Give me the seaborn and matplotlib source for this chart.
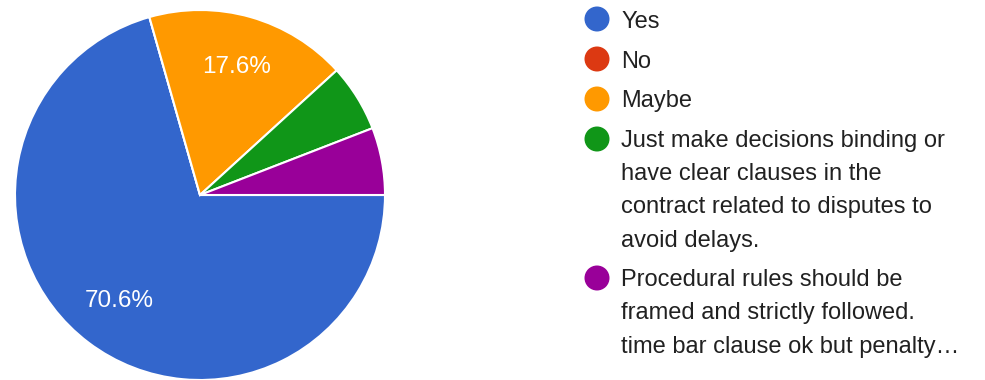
import matplotlib
matplotlib.use("Agg")
import matplotlib.pyplot as plt
from matplotlib.patches import Circle
import seaborn as sns

sns.set_theme(style="white")
plt.rcParams["font.family"] = ["Liberation Sans", "DejaVu Sans"]

# Survey responses
categories = [
    "Yes",
    "No",
    "Maybe",
    "Just make decisions binding or\nhave clear clauses in the\ncontract related to disputes to\navoid delays.",
    "Procedural rules should be\nframed and strictly followed.\ntime bar clause ok but penalty\u2026",
]
counts = [12, 0, 3, 1, 1]
colors = ["#3366CC", "#DC3912", "#FF9900", "#109618", "#990099"]

W, H = 985, 380
fig = plt.figure(figsize=(W / 100, H / 100), dpi=100)
fig.patch.set_facecolor("white")

# Pie chart: centre (200, 195) px, radius 185 px
cx, cy, r = 200, 195, 185
ax = fig.add_axes([(cx - r) / W, (H - cy - r) / H, 2 * r / W, 2 * r / H])


def pct_label(p):
    return f"{p:.1f}%" if p >= 10 else ""


wedges, texts, autotexts = ax.pie(
    counts,
    colors=colors,
    startangle=0,
    counterclock=False,
    autopct=pct_label,
    pctdistance=0.72,
    wedgeprops=dict(edgecolor="white", linewidth=1.5),
    textprops=dict(color="white", fontsize=17.5),
)
ax.set_xlim(-1, 1)
ax.set_ylim(-1, 1)
ax.set_aspect("equal")
ax.axis("off")

# Legend drawn in pixel coordinates
lax = fig.add_axes([0, 0, 1, 1])
lax.set_xlim(0, W)
lax.set_ylim(H, 0)
lax.axis("off")

line_h = 33
y = 19
for label, color in zip(categories, colors):
    lax.add_patch(Circle((597, y), 12.5, color=color, lw=0))
    lines = label.split("\n")
    for i, line in enumerate(lines):
        lax.text(621, y + 8.5 + i * line_h, line, fontsize=17, color="#212121",
                 va="baseline", ha="left")
    y += 40 + (len(lines) - 1) * line_h

fig.savefig("out.png", dpi=100, facecolor="white")
